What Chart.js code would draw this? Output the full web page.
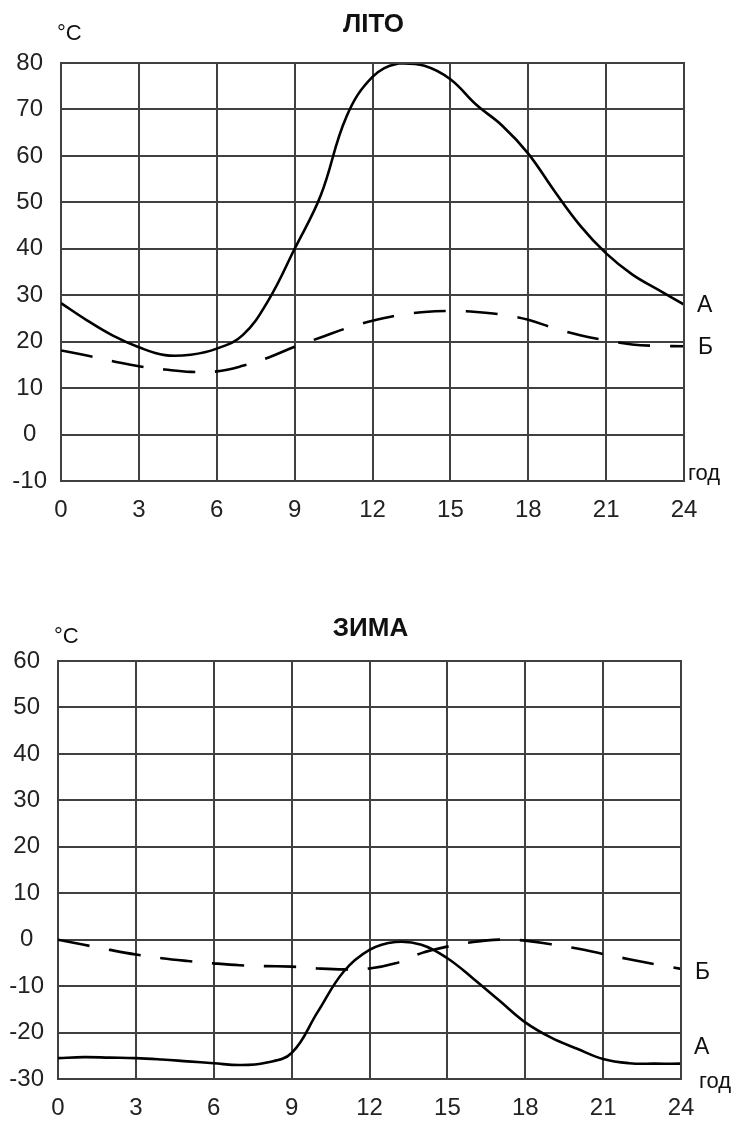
<!DOCTYPE html>
<html>
<head>
<meta charset="utf-8">
<script src="https://cdn.jsdelivr.net/npm/chart.js@4/dist/chart.umd.min.js"></script>
<style>
  body{margin:0;background:#fff;}
  .box{position:absolute;left:0;width:739px;height:522px;}
</style>
</head>
<body>
<div class="box" style="top:0"><canvas id="summer" width="739" height="522"></canvas></div>
<div class="box" style="top:600px"><canvas id="winter" width="739" height="522"></canvas></div>
<script>
'use strict';

// hours of the day
var hours = [0,1,2,3,4,5,6,7,8,9,10,11,12,13,14,15,16,17,18,19,20,21,22,23,24];

// ЛІТО
var summerA = [28.3,24.6,21.3,18.8,17.1,17.2,18.5,21.4,29,40,51.4,68.5,77,79.9,79.4,76.5,71,66.5,60.5,52.5,45,39,34.5,31.2,28];
var summerB = [18.1,17,15.8,14.7,14,13.5,13.6,14.8,16.6,18.9,20.9,22.9,24.5,25.7,26.4,26.6,26.4,25.8,24.7,22.9,21.4,20.3,19.4,19.1,19];

// ЗИМА
var winterA = [-25.5,-25.3,-25.4,-25.5,-25.8,-26.2,-26.6,-27,-26.5,-24.4,-15.6,-6.9,-2.2,-0.5,-1.1,-4,-8.4,-13.1,-17.8,-21.1,-23.5,-25.7,-26.6,-26.7,-26.7];
var winterB = [0,-1.1,-2.2,-3.2,-4,-4.6,-5.1,-5.5,-5.7,-5.8,-6.2,-6.4,-6.2,-5.1,-2.9,-1.5,-0.5,0,-0.2,-1,-1.9,-3.1,-4.2,-5.3,-6.3];

var xTicks = [0,3,6,9,12,15,18,21,24];

var FONT = "'Liberation Sans', Arial, sans-serif";
var GRID = '#404040';

function toPoints(arr){
    return hours.map(function(h,i){ return {x:h, y:arr[i]}; });
}

// title, units and line names drawn around the plot
var notes = {
    id:'notes',
    afterDraw:function(chart, args, opts){
        var ctx = chart.ctx;
        var area = chart.chartArea;
        var ys = chart.scales.y;
        var last = hours.length - 1;
        ctx.save();
        ctx.fillStyle = '#111';
        ctx.textBaseline = 'alphabetic';

        ctx.font = 'bold 26px ' + FONT;
        ctx.textAlign = 'center';
        ctx.fillText(opts.title, (area.left + area.right)/2 + 1, opts.titleY);

        ctx.textAlign = 'left';
        ctx.font = '22px ' + FONT;
        ctx.fillText('°C', area.left - 4, opts.unitY);

        ctx.textBaseline = 'middle';
        ctx.font = '23px ' + FONT;
        var a = chart.data.datasets[0].data[last].y;
        var b = chart.data.datasets[1].data[last].y;
        ctx.fillText('А', area.right + 13, ys.getPixelForValue(a) + opts.offA);
        ctx.fillText('Б', area.right + 14, ys.getPixelForValue(b) + opts.offB);

        ctx.textBaseline = 'alphabetic';
        ctx.font = '22px ' + FONT;
        ctx.fillText('год', area.right + opts.hourX, area.bottom + opts.hourY);
        ctx.restore();
    }
};

function makeChart(id, seriesA, seriesB, yMin, yMax, box, noteOpts){
    var ctx = document.getElementById(id).getContext('2d');
    return new Chart(ctx, {
        type:'line',
        data:{
            datasets:[{
                label:'А',
                data:toPoints(seriesA),
                borderColor:'#000',
                borderWidth:2.6,
                pointRadius:0,
                tension:0.4,
                fill:false
            },{
                label:'Б',
                data:toPoints(seriesB),
                borderColor:'#000',
                borderWidth:2.6,
                borderDash:[32,20],
                pointRadius:0,
                tension:0.4,
                fill:false
            }]
        },
        options:{
            responsive:false,
            animation:false,
            events:[],
            layout:{padding:{top:box.top, right:box.right, left:0, bottom:0}},
            plugins:{
                legend:{display:false},
                tooltip:{enabled:false},
                notes:noteOpts
            },
            scales:{
                x:{
                    type:'linear',
                    min:0, max:24,
                    afterBuildTicks:function(scale){
                        scale.ticks = xTicks.map(function(v){ return {value:v}; });
                    },
                    afterFit:function(scale){ scale.height = box.xHeight; },
                    grid:{color:GRID, lineWidth:2, drawTicks:false},
                    border:{color:GRID, width:2},
                    ticks:{font:{family:FONT, size:24}, color:'#222', padding:15, maxRotation:0, autoSkip:false}
                },
                y:{
                    min:yMin, max:yMax,
                    afterFit:function(scale){ scale.width = box.left; },
                    grid:{color:GRID, lineWidth:2, drawTicks:false},
                    border:{color:GRID, width:2},
                    ticks:{stepSize:10, font:{family:FONT, size:24}, color:'#222', padding:14, crossAlign:'center'}
                }
            }
        },
        plugins:[notes, {
            id:'rightEdge',
            afterDraw:function(chart){
                var c = chart.ctx, a = chart.chartArea;
                c.save();
                c.strokeStyle = GRID;
                c.lineWidth = 2;
                c.beginPath();
                c.moveTo(a.left, a.top); c.lineTo(a.right, a.top); c.lineTo(a.right, a.bottom);
                c.stroke();
                c.restore();
            }
        }]
    });
}

makeChart('summer', summerA, summerB, -10, 80,
    {top:63, right:55, left:61, xHeight:41},
    {title:'ЛІТО', titleY:32, unitY:40, offA:1, offB:1, hourX:4, hourY:-1});

makeChart('winter', winterA, winterB, -30, 60,
    {top:61, right:58, left:58, xHeight:43},
    {title:'ЗИМА', titleY:36, unitY:43, offA:-16, offB:4, hourX:18, hourY:9});
</script>
</body>
</html>
